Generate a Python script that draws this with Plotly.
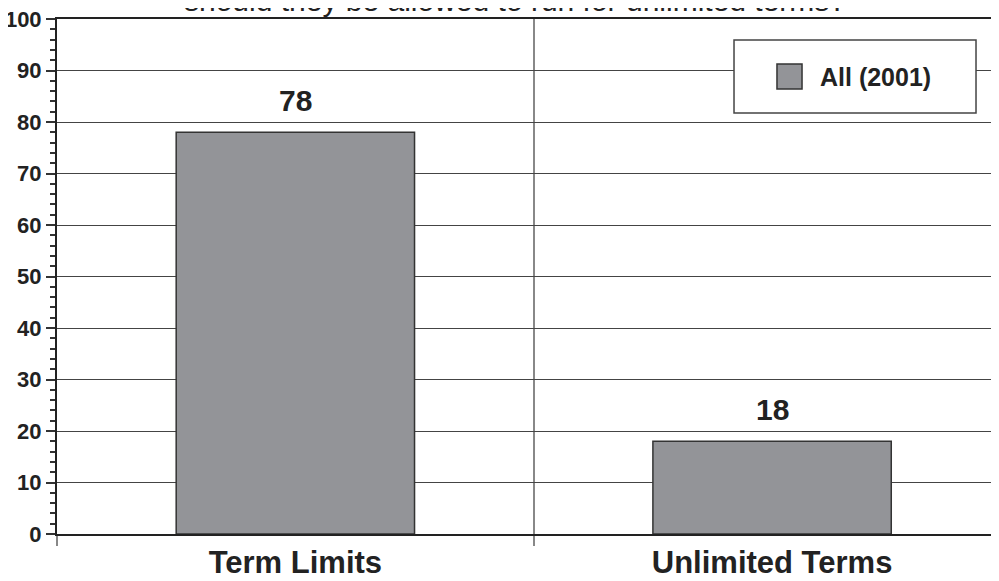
import plotly.graph_objects as go

# data
categories = ["Term Limits", "Unlimited Terms"]
values = [78, 18]
series_name = "All (2001)"
title_line = "should they be allowed to run for unlimited terms?"
y_ticks = [0, 10, 20, 30, 40, 50, 60, 70, 80, 90, 100]

BAR_COLOR = "#939498"
EDGE = "#333333"
INK = "#222222"
FONT = "Liberation Sans, Arial, sans-serif"

fig = go.Figure()
fig.add_trace(go.Bar(x=categories, y=values, name=series_name, width=0.5,
                     marker=dict(color=BAR_COLOR, line=dict(color=EDGE, width=1.5)),
                     showlegend=False))

# value labels above bars
for cat, val in zip(categories, values):
    fig.add_annotation(x=cat, y=val, text="<b>%d</b>" % val, showarrow=False,
                       yanchor="bottom", yshift=13,
                       font=dict(family=FONT, size=30, color=INK))

# clipped title line at the top of the page
fig.add_annotation(xref="paper", yref="paper", x=0.486, y=1.0, text=title_line,
                   showarrow=False, xanchor="center", yanchor="bottom",
                   font=dict(family=FONT, size=30, color=INK))

# legend box drawn by hand so the swatch matches the original size
fig.add_shape(type="rect", xref="paper", yref="paper", x0=0.7187, x1=0.9756,
              y0=0.8175, y1=0.9592, fillcolor="white",
              line=dict(color="#444444", width=1.5), layer="above")
fig.add_shape(type="rect", xref="paper", yref="paper", x0=0.7643, x1=0.7909,
              y0=0.8641, y1=0.9126, fillcolor=BAR_COLOR,
              line=dict(color=EDGE, width=1.5), layer="above")
fig.add_annotation(xref="paper", yref="paper", x=0.8079, y=0.8874,
                   text="<b>%s</b>" % series_name, showarrow=False,
                   xanchor="left", yanchor="middle",
                   font=dict(family=FONT, size=25, color=INK))

# page body has an 8px margin, so the figure is 8px smaller than the window
fig.update_layout(
    width=991, height=573,
    margin=dict(l=49, r=0, t=11, b=47),
    paper_bgcolor="white", plot_bgcolor="white",
    font=dict(family=FONT, color=INK),
)
fig.update_xaxes(range=[-0.5, 1.476], automargin=False, showline=True, mirror=True,
                 linecolor=INK, linewidth=2,
                 tickson="boundaries", showgrid=True, gridcolor="#888888", gridwidth=1.5,
                 ticks="outside", ticklen=10, tickcolor="#888888", tickwidth=1.5,
                 tickfont=dict(family=FONT, size=31, color=INK),
                 tickvals=categories, ticktext=["<b>%s</b>" % c for c in categories])
fig.update_yaxes(range=[0, 100], automargin=False, tickvals=y_ticks,
                 ticktext=["<b>%d</b>" % t for t in y_ticks],
                 ticklabeloverflow="allow",
                 showline=True, linecolor=INK, linewidth=2, zeroline=False,
                 showgrid=True, gridcolor="#444444", gridwidth=1,
                 ticks="outside", ticklen=9, tickcolor=EDGE, tickwidth=1.5,
                 tickfont=dict(family=FONT, size=22, color=INK),
                 minor=dict(dtick=2, ticks="outside", ticklen=5, tickcolor=EDGE,
                            tickwidth=1.5, showgrid=False))

fig.write_html("out.html")
